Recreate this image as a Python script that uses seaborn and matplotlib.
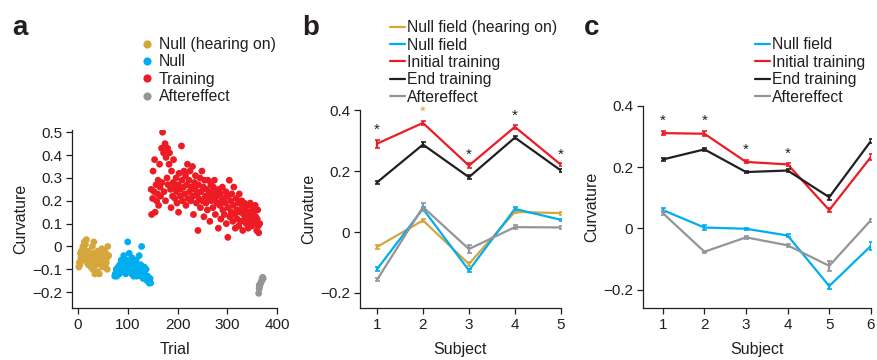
import numpy as np
import pandas as pd
import matplotlib
matplotlib.use('Agg')
import matplotlib.pyplot as plt
import seaborn as sns

# ---- panel a: trial-by-trial curvature ----
gold_x = [2, 3, 4, 5, 6, 7, 8, 9, 10, 11,
          12, 13, 14, 15, 16, 17, 18, 19, 20, 21,
          22, 23, 24, 25, 26, 27, 28, 29, 30, 31,
          32, 33, 34, 35, 36, 37, 38, 39, 40, 41,
          42, 43, 44, 45, 46, 47, 48, 49, 50, 51,
          52, 53, 54, 55, 56, 57, 58, 59, 60, 62]
gold_y = [-0.09, -0.07, -0.08, -0.03, -0.05, -0.02, -0.06, -0.04, 0.0, -0.03,
          -0.01, 0.02, -0.05, 0.01, -0.04, 0.03, -0.07, -0.06, -0.02, -0.08,
          -0.05, -0.03, -0.06, -0.04, -0.09, -0.07, -0.05, 0.0, -0.1, -0.03,
          0.02, -0.06, -0.12, -0.04, -0.08, -0.06, -0.05, -0.11, -0.02, -0.07,
          -0.04, -0.12, -0.06, -0.03, -0.08, -0.05, -0.01, -0.09, -0.07, -0.04,
          -0.06, -0.02, -0.05, -0.08, -0.03, -0.07, -0.05, -0.1, 0.0, -0.04]

blue_x = [74, 75, 77, 78, 80, 81, 83, 84, 86, 87,
          89, 90, 92, 93, 95, 96, 98, 99, 100, 102,
          103, 105, 106, 108, 109, 111, 112, 114, 115, 117,
          118, 120, 121, 123, 124, 126, 127, 128, 130, 131,
          133, 134, 136, 137, 139, 140, 142, 143, 145, 146]
blue_y = [-0.13, -0.12, -0.1, -0.13, -0.11, -0.09, -0.12, -0.08, -0.1, -0.06,
          -0.11, -0.09, -0.04, -0.07, -0.1, -0.12, -0.06, -0.08, 0.02, -0.09,
          -0.03, -0.11, -0.07, -0.12, -0.05, -0.1, -0.13, -0.08, -0.11, -0.06,
          -0.13, -0.09, -0.12, -0.04, -0.1, -0.08, -0.13, 0.0, -0.11, -0.14,
          -0.09, -0.12, -0.14, -0.1, -0.15, -0.13, -0.15, -0.16, -0.14, -0.16]

red_x = [147, 148, 150, 151, 153, 154, 155, 157, 158, 160,
         161, 162, 164, 165, 166, 168, 169, 170, 172, 173,
         175, 176, 177, 179, 180, 181, 183, 184, 186, 187,
         188, 190, 191, 192, 194, 195, 197, 198, 199, 201,
         202, 203, 205, 206, 208, 209, 210, 212, 213, 214,
         216, 217, 219, 220, 221, 223, 224, 225, 227, 228,
         230, 231, 232, 234, 235, 236, 238, 239, 241, 242,
         243, 245, 246, 247, 249, 250, 252, 253, 254, 256,
         257, 258, 260, 261, 263, 264, 265, 267, 268, 269,
         271, 272, 274, 275, 276, 278, 279, 280, 282, 283,
         285, 286, 287, 289, 290, 291, 293, 294, 296, 297,
         298, 300, 301, 302, 304, 305, 307, 308, 309, 311,
         312, 313, 315, 316, 318, 319, 320, 322, 323, 324,
         326, 327, 329, 330, 331, 333, 334, 335, 337, 338,
         340, 341, 342, 344, 345, 346, 348, 349, 351, 352,
         353, 355, 356, 357, 359, 360, 361, 362, 363, 365]
red_y = [0.25, 0.14, 0.21, 0.33, 0.24, 0.38, 0.15, 0.27, 0.20, 0.23,
         0.29, 0.18, 0.36, 0.26, 0.22, 0.43, 0.28, 0.50, 0.41, 0.24,
         0.45, 0.20, 0.39, 0.30, 0.43, 0.27, 0.36, 0.41, 0.25, 0.17,
         0.33, 0.22, 0.28, 0.38, 0.26, 0.21, 0.30, 0.24, 0.19, 0.27,
         0.15, 0.32, 0.25, 0.22, 0.44, 0.29, 0.20, 0.26, 0.33, 0.23,
         0.31, 0.18, 0.27, 0.36, 0.21, 0.29, 0.24, 0.33, 0.20, 0.26,
         0.35, 0.22, 0.14, 0.28, 0.25, 0.31, 0.19, 0.23, 0.07, 0.27,
         0.21, 0.30, 0.17, 0.24, 0.33, 0.20, 0.26, 0.13, 0.29, 0.22,
         0.19, 0.25, 0.16, 0.29, 0.21, 0.24, 0.11, 0.27, 0.20, 0.23,
         0.17, 0.26, 0.29, 0.21, 0.14, 0.24, 0.19, 0.22, 0.08, 0.25,
         0.18, 0.23, 0.12, 0.20, 0.26, 0.16, 0.21, 0.14, 0.19, 0.24,
         0.10, 0.22, 0.04, 0.17, 0.29, 0.13, 0.20, 0.15, 0.23, 0.11,
         0.18, 0.26, 0.14, 0.08, 0.21, 0.16, 0.12, 0.19, 0.09, 0.23,
         0.15, 0.11, 0.20, 0.17, 0.07, 0.14, 0.19, 0.12, 0.16, 0.10,
         0.18, 0.13, 0.08, 0.15, 0.11, 0.19, 0.14, 0.09, 0.17, 0.12,
         0.15, 0.10, 0.18, 0.13, 0.07, 0.12, 0.16, 0.09, 0.06, 0.10]

grey_x = [363, 364, 364, 365, 366, 367, 368, 369, 370, 371, 372]
grey_y = [-0.205, -0.185, -0.17, -0.175, -0.165, -0.16, -0.155, -0.15, -0.14, -0.135, -0.14]

# ---- panel b: 5 subjects ----
subj_b = [1, 2, 3, 4, 5]
b_null_hear = [-0.049, 0.038, -0.105, 0.066, 0.062]
b_null = [-0.122, 0.076, -0.126, 0.076, 0.040]
b_init = [0.290, 0.358, 0.218, 0.345, 0.221]
b_end = [0.163, 0.287, 0.180, 0.310, 0.202]
b_after = [-0.157, 0.082, -0.056, 0.016, 0.015]
b_null_hear_err = [0.006, 0.006, 0.006, 0.005, 0.005]
b_null_err = [0.006, 0.005, 0.006, 0.005, 0.004]
b_init_err = [0.013, 0.007, 0.007, 0.007, 0.005]
b_end_err = [0.006, 0.007, 0.007, 0.006, 0.004]
b_after_err = [0.005, 0.013, 0.012, 0.007, 0.004]
b_star_x = [1, 2, 3, 4, 5]
b_star_y = [0.335, 0.395, 0.255, 0.38, 0.255]
b_star_gold = [False, True, False, False, False]

# ---- panel c: 6 subjects ----
subj_c = [1, 2, 3, 4, 5, 6]
c_null = [0.060, 0.003, -0.001, -0.023, -0.188, -0.057]
c_init = [0.311, 0.309, 0.217, 0.209, 0.060, 0.233]
c_end = [0.225, 0.258, 0.184, 0.189, 0.102, 0.285]
c_after = [0.050, -0.076, -0.029, -0.055, -0.122, 0.027]
c_null_err = [0.006, 0.008, 0.004, 0.004, 0.008, 0.013]
c_init_err = [0.007, 0.008, 0.005, 0.005, 0.007, 0.010]
c_end_err = [0.004, 0.006, 0.004, 0.004, 0.008, 0.007]
c_after_err = [0.006, 0.004, 0.004, 0.004, 0.016, 0.005]
c_star_x = [1, 2, 3, 4]
c_star_y = [0.35, 0.35, 0.257, 0.243]

gold = '#D4A63C'
blue = '#00AEEF'
red = '#ED1C24'
grey = '#939598'
black = '#231F20'

sns.set_style('ticks')
plt.rcParams['font.family'] = ['Liberation Sans', 'DejaVu Sans']
plt.rcParams['font.size'] = 11
plt.rcParams['text.color'] = black
plt.rcParams['axes.labelcolor'] = black
plt.rcParams['axes.labelsize'] = 11.5

LEG = 11.3

fig = plt.figure(figsize=(8.77, 3.6), dpi=100)


def style_axis(ax):
    sns.despine(ax=ax)
    for s in ['left', 'bottom']:
        ax.spines[s].set_linewidth(0.9)
        ax.spines[s].set_color(black)
    ax.tick_params(length=4, width=0.9, labelsize=11, colors=black, pad=3)


# panel a
ax_a = fig.add_axes([0.082, 0.144, 0.234, 0.495])
scat = pd.DataFrame({
    'trial': gold_x + blue_x + red_x + grey_x,
    'curvature': gold_y + blue_y + red_y + grey_y,
    'phase': (['Null (hearing on)'] * len(gold_x) + ['Null'] * len(blue_x)
              + ['Training'] * len(red_x) + ['Aftereffect'] * len(grey_x)),
})
sns.scatterplot(data=scat, x='trial', y='curvature', hue='phase',
                palette={'Null (hearing on)': gold, 'Null': blue,
                         'Training': red, 'Aftereffect': grey},
                s=24, linewidth=0, ax=ax_a)
ax_a.set_xlim(-12, 400)
ax_a.set_ylim(-0.27, 0.51)
ax_a.set_xticks([0, 100, 200, 300, 400])
ax_a.set_yticks([-0.2, -0.1, 0, 0.1, 0.2, 0.3, 0.4, 0.5])
ax_a.set_yticklabels(['\u22120.2', '\u22120.1', '0', '0.1', '0.2', '0.3', '0.4', '0.5'])
ax_a.set_xlabel('Trial', labelpad=7)
ax_a.set_ylabel('Curvature', labelpad=3)
style_axis(ax_a)
ax_a.legend(loc='upper left', bbox_to_anchor=(0.1625, 0.897), bbox_transform=fig.transFigure,
            frameon=False, borderpad=0, borderaxespad=0, handlelength=0.6,
            handletextpad=0.45, labelspacing=0.15, fontsize=LEG, markerscale=1.2)


def line_panel(ax, subjects, series, errs, colors, labels):
    rows = []
    for lab, vals in zip(labels, series):
        for s, v in zip(subjects, vals):
            rows.append({'subject': s, 'curvature': v, 'condition': lab})
    df = pd.DataFrame(rows)
    sns.lineplot(data=df, x='subject', y='curvature', hue='condition',
                 hue_order=labels, palette=dict(zip(labels, colors)),
                 linewidth=1.6, errorbar=None, ax=ax)
    for vals, err, col in zip(series, errs, colors):
        ax.errorbar(subjects, vals, yerr=err, fmt='none', ecolor=col,
                    elinewidth=1.6, capsize=1.8, capthick=1.2)


# panel b
ax_b = fig.add_axes([0.4105, 0.144, 0.229, 0.55])
labels_b = ['Null field (hearing on)', 'Null field', 'Initial training',
            'End training', 'Aftereffect']
line_panel(ax_b, subj_b, [b_null_hear, b_null, b_init, b_end, b_after],
           [b_null_hear_err, b_null_err, b_init_err, b_end_err, b_after_err],
           [gold, blue, red, black, grey], labels_b)
for x, y, g in zip(b_star_x, b_star_y, b_star_gold):
    ax_b.text(x, y, '*', ha='center', va='center', fontsize=11,
              color=gold if g else black)
ax_b.set_xlim(0.63, 5)
ax_b.set_ylim(-0.25, 0.4)
ax_b.set_xticks(subj_b)
ax_b.set_yticks([-0.2, 0, 0.2, 0.4])
ax_b.set_yticklabels(['\u22120.2', '0', '0.2', '0.4'])
ax_b.set_xlabel('Subject', labelpad=7)
ax_b.set_ylabel('Curvature', labelpad=3)
style_axis(ax_b)
ax_b.legend(loc='upper left', bbox_to_anchor=(0.4445, 0.944), bbox_transform=fig.transFigure,
            frameon=False, borderpad=0, borderaxespad=0, handlelength=0.95,
            handletextpad=0.15, labelspacing=0.15, fontsize=LEG)

# panel c
ax_c = fig.add_axes([0.733, 0.144, 0.26, 0.562])
labels_c = ['Null field', 'Initial training', 'End training', 'Aftereffect']
line_panel(ax_c, subj_c, [c_null, c_init, c_end, c_after],
           [c_null_err, c_init_err, c_end_err, c_after_err],
           [blue, red, black, grey], labels_c)
for x, y in zip(c_star_x, c_star_y):
    ax_c.text(x, y, '*', ha='center', va='center', fontsize=11, color=black)
ax_c.set_xlim(0.52, 6)
ax_c.set_ylim(-0.26, 0.4)
ax_c.set_xticks(subj_c)
ax_c.set_yticks([-0.2, 0, 0.2, 0.4])
ax_c.set_yticklabels(['\u22120.2', '0', '0.2', '0.4'])
ax_c.set_xlabel('Subject', labelpad=7)
ax_c.set_ylabel('Curvature', labelpad=3)
style_axis(ax_c)
ax_c.legend(loc='upper left', bbox_to_anchor=(0.861, 0.897), bbox_transform=fig.transFigure,
            frameon=False, borderpad=0, borderaxespad=0, handlelength=0.95,
            handletextpad=0.15, labelspacing=0.16, fontsize=LEG)

for letter, x in [('a', 0.0137), ('b', 0.345), ('c', 0.666)]:
    fig.text(x, 0.903, letter, fontsize=20, fontweight='bold', color=black, va='baseline')

fig.savefig('out.png', dpi=100)
